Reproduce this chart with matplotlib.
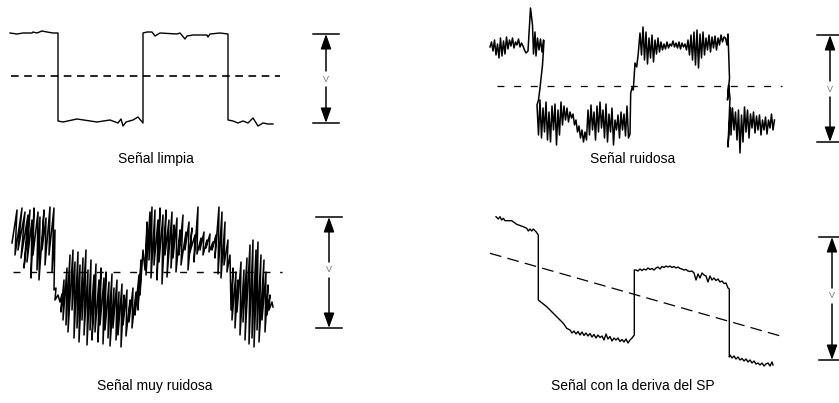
import numpy as np
import matplotlib.pyplot as plt

plt.rcParams['font.family'] = ['Liberation Sans', 'DejaVu Sans']
plt.rcParams['lines.scale_dashes'] = False

# --- datos (tiempo, nivel de la senal) ---
limpia_t = [10, 17, 23, 32, 33, 37, 42, 47, 53, 58,
            58, 63, 77, 97, 110, 118, 121, 123, 126, 133, 138, 143,
            143, 147, 152, 155, 160, 177, 180, 185, 187, 193, 207, 208, 210, 220, 228,
            228, 233, 238, 243, 248, 253, 258, 263, 268, 273]
limpia_v = [117, 116, 117, 117, 118, 117, 119, 118, 117, 117,
            29, 28, 31, 28, 30, 27, 31, 24, 28, 30, 33, 27,
            117, 118, 118, 114, 117, 116, 117, 111, 114, 115, 115, 113, 116, 117, 116,
            30, 29, 27, 29, 27, 32, 24, 27, 26, 26]
limpia_sp = 74

ruidosa = [(20, 103), (21.5, 108), (23, 99), (24.5, 110), (26, 95), (27.5, 106), (29, 92),
           (30.5, 112), (32, 94), (33.5, 109), (35, 96), (36.5, 113), (38, 101), (39.5, 110),
           (41, 104), (42.5, 112), (44, 102), (45.5, 108), (47, 105), (48.5, 111), (50, 103),
           (51.5, 107), (53, 104), (54.5, 100), (56, 97),
           (58, 99), (60.5, 142), (62.5, 125), (63.5, 96), (65, 118), (66, 94), (67.5, 112),
           (69, 100), (70.5, 111), (72, 98), (73.5, 110), (74, 109),
           (72.5, 85), (70, 62), (68.5, 50),
           (67, 45), (68.5, 15), (70, 50), (71.5, 12), (73, 42), (74.5, 18), (76, 48), (77.5, 10),
           (79, 38), (80.5, 8), (82, 44), (83.5, 20), (85, 46), (86.5, 5), (88, 40), (89.5, 15),
           (91, 48), (92.5, 25), (94, 44), (95.5, 30), (97, 42), (98.5, 28), (100, 38),
           (101.5, 32), (103, 36), (104.5, 25), (106, 30), (107.5, 18), (109, 24), (110.5, 12),
           (112, 20), (113.5, 8), (115, 18), (116.5, 10), (118, 40), (119.5, 15), (121, 45),
           (122.5, 20), (124, 38), (125.5, 10), (127, 44), (128.5, 18), (130, 48), (131.5, 22),
           (133, 40), (134.5, 12), (136, 46), (137.5, 8), (139, 36), (140.5, 18), (142, 42),
           (143.5, 5), (145, 30), (146.5, 20), (148, 35), (149.5, 12), (151, 38), (152.5, 20),
           (154, 36), (155.5, 14), (157, 44), (158.5, 12), (160, 16),
           (160.7, 57), (162.3, 63), (163.3, 60), (165, 87), (166.7, 83), (168.3, 97), (170, 117),
           (171.5, 95), (173, 123), (174.5, 90), (176, 118), (177.5, 86), (179, 112), (180.5, 92),
           (182, 115), (183.5, 88), (185, 110), (186.5, 96), (188, 112), (189.5, 98), (191, 108),
           (192.5, 100), (194, 106), (195.5, 101), (197, 108), (198.5, 102), (200, 106),
           (201.5, 104), (203, 109), (204.5, 103), (206, 107), (207.5, 102), (209, 108),
           (210.5, 101), (212, 107), (213.5, 103), (215, 106), (216.5, 100), (218, 110),
           (219.5, 95), (221, 115), (222.5, 90), (224, 118), (225.5, 85), (227, 120), (228.5, 82),
           (230, 116), (231.5, 92), (233, 118), (234.5, 95), (236, 112), (237.5, 100), (239, 115),
           (240.5, 98), (242, 113), (243.5, 102), (245, 114), (246.5, 100), (248, 112),
           (249.5, 105), (251, 115), (252.5, 108), (254, 113), (255.5, 112), (257, 105),
           (258, 116), (259.5, 72), (257.5, 50), (258.5, 65), (260, 52), (258, 3), (260.5, 42),
           (261, 15), (262.5, 42), (264, 20), (265.5, 38), (267, 10), (268.5, 40), (270, -3),
           (271.5, 35), (273, 8), (274.5, 43), (276, 18), (277.5, 40), (279, 12), (280.5, 36),
           (282, 22), (283.5, 38), (285, 17), (286.5, 34), (288, 20), (289.5, 35), (291, 15),
           (292.5, 30), (294, 20), (295.5, 33), (297, 16), (298.5, 30), (300, 22), (301.5, 36),
           (303, 20), (304.5, 30)]
ruidosa_sp = 64

muy_ruidosa = [(12, 107), (17, 140), (15, 95), (22, 142), (18, 100), (25, 138), (21, 92),
               (28, 135), (24, 82), (30, 140), (27, 88), (32, 130), (31, 72), (34, 142), (33, 95),
               (38, 138), (37, 80), (40, 133), (39, 70), (44, 140), (42, 100), (46, 132),
               (45, 85), (50, 143), (49, 95), (54, 142), (52, 78), (55, 120), (54, 60),
               (56, 62), (55, 50), (58, 55), (60, 48), (62, 56), (61, 38), (64, 70), (63, 30),
               (67, 82), (66, 25), (70, 95), (68, 18), (73, 100), (72, 40), (75, 88), (74, 12),
               (78, 98), (77, 22), (80, 85), (79, 8), (83, 92), (82, 30), (86, 100), (84, 15),
               (88, 80), (87, 5), (91, 90), (90, 20), (94, 75), (92, 10), (96, 86), (95, 18),
               (99, 70), (98, 8), (101, 82), (100, 25), (104, 72), (103, 6), (106, 78), (105, 20),
               (109, 68), (108, 12), (112, 76), (110, 4), (114, 62), (113, 22), (117, 70),
               (116, 10), (119, 58), (118, 15), (122, 66), (121, 3), (124, 55), (123, 25),
               (127, 60), (126, 14), (130, 50), (129, 28), (133, 62), (132, 22), (136, 58),
               (135, 35), (139, 75), (138, 40), (141, 90), (140, 55), (143, 100),
               (145, 80), (147, 128), (146, 75), (150, 138), (149, 90), (152, 143), (151, 72),
               (155, 140), (154, 85), (158, 130), (157, 70), (160, 142), (159, 88), (163, 135),
               (162, 66), (166, 140), (165, 95), (169, 130), (167, 73), (172, 138), (171, 82),
               (174, 125), (173, 92), (177, 132), (176, 78), (180, 120), (179, 95), (183, 135),
               (181, 85), (186, 118), (185, 100), (189, 128), (188, 80), (192, 122), (190, 98),
               (195, 115), (194, 88), (198, 143), (197, 96), (201, 112), (200, 100), (204, 118),
               (203, 95), (207, 110), (206, 102), (210, 116), (209, 98), (213, 108), (212, 100),
               (216, 115), (215, 92), (219, 143), (218, 76), (222, 138), (221, 72), (225, 128),
               (224, 85), (228, 110), (227, 78), (230, 95),
               (231, 40), (233, 82), (232, 30), (236, 78), (235, 22), (238, 70), (237, 38),
               (241, 88), (240, 15), (244, 80), (243, 28), (247, 92), (245, 10), (250, 105),
               (249, 6), (253, 110), (252, 12), (256, 100), (254, 3), (258, 108), (257, 20),
               (261, 95), (259, 8), (264, 90), (262, 30), (266, 78), (265, 18), (268, 65),
               (267, 35), (270, 55), (269, 40), (272, 48), (273, 43)]
muy_ruidosa_sp = 78

deriva = [(26, 143.3), (28.3, 141), (30, 143.3), (31.7, 140), (33.3, 141.7), (35, 139.3),
          (41.7, 139.3), (46.7, 135.7), (53.3, 133.3), (56.7, 131.7), (58.3, 129), (60, 131),
          (61.7, 129), (63.3, 131), (66, 128.3), (68.3, 125),
          (68.3, 60), (76.7, 53.3), (85, 45), (93.3, 36.7), (96.7, 31.7),
          (100, 30), (102, 27), (104, 29), (106, 26), (108, 28.5), (110, 25), (112, 28),
          (114, 24.5), (116, 27), (118, 24), (120, 26.5), (122, 23), (124, 25.5), (126, 22),
          (128, 25), (130, 22.5), (132, 24), (134, 20), (136, 26), (138, 21), (140, 23.5),
          (142, 19), (144, 22), (146, 20), (148, 22), (150, 18.5), (152, 20.5), (154, 18),
          (156, 21), (158, 17), (160, 20), (162, 22), (164.3, 25),
          (164.3, 90), (166, 90), (168, 89), (170, 91), (172, 89.5), (174, 91), (176, 90),
          (178, 92), (180, 90.5), (182, 91.5), (184, 90), (186, 92), (188, 93), (190, 91),
          (192, 93.5), (194, 92.5), (196, 94), (198, 93), (200, 94), (202, 92.5), (204, 93.5),
          (206, 92), (208, 93), (210, 91.5), (212, 91), (214, 90), (216, 90.5), (218, 89),
          (220, 88.5), (222, 89), (224, 87), (226, 80), (228, 86), (230, 82), (232, 87),
          (234, 85), (236, 84), (238, 78), (240, 84), (242, 80), (244, 82), (246, 79.5),
          (248, 81), (250, 78), (252, 79), (254, 76.5), (256, 77), (258, 72), (259.3, 71),
          (259.3, 3), (260, 5), (262, 2), (264, 4), (266, 1), (268, 3), (270, 0), (272, 1.5),
          (274, -1), (276, 1), (278, -2), (280, 0), (282, -3), (284, -1), (286, -4), (288, -3),
          (290, -5), (292, -3), (294, -6), (296, -4), (298, -3), (300, -6), (302, -2), (303, -5)]
deriva_sp_t = [20, 313]
deriva_sp_v = [106.7, 23.3]

titulos = ['Señal limpia', 'Señal ruidosa', 'Señal muy ruidosa', 'Señal con la deriva del SP']

W, H = 839, 403
fig = plt.figure(figsize=(W / 100, H / 100), dpi=100)


def panel(left, top):
    ax = fig.add_axes([left / W, 1 - (top + 170) / H, 369 / W, 170 / H])
    ax.set_xlim(0, 369)
    ax.set_ylim(-20, 150)
    ax.axis('off')
    return ax


def rango_v(ax, x, top, bot, mid):
    for y in (top, bot):
        ax.plot([x - 13, x + 13], [y, y], color='black', lw=1.1, clip_on=False)
    props = dict(arrowstyle='-|>,head_length=0.9,head_width=0.32', color='black',
                 lw=1.1, mutation_scale=10, shrinkA=0, shrinkB=0)
    ax.annotate('', xy=(x, top), xytext=(x, mid + 8), arrowprops=props, annotation_clip=False)
    ax.annotate('', xy=(x, bot), xytext=(x, mid - 8), arrowprops=props, annotation_clip=False)
    ax.text(x, mid, 'V', fontsize=6.5, color='#777777', ha='center', va='center')


# señal limpia
ax1 = panel(0, 0)
ax1.plot(limpia_t, limpia_v, color='black', lw=1.0)
ax1.plot([11, 280], [limpia_sp, limpia_sp], color='black', lw=1.2, dashes=(5.5, 4))
rango_v(ax1, 326, 116, 27, 71)

# señal ruidosa
ax2 = panel(470, 0)
t, v = zip(*ruidosa)
ax2.plot(t, v, color='black', lw=1.1, clip_on=False)
ax2.plot([27, 312], [ruidosa_sp, ruidosa_sp], color='black', lw=0.9, dashes=(5, 7))
rango_v(ax2, 360, 115, 8, 61)

# señal muy ruidosa
ax3 = panel(0, 200)
t, v = zip(*muy_ruidosa)
ax3.plot(t, v, color='black', lw=1.1, clip_on=False)
ax3.plot([13, 282], [muy_ruidosa_sp, muy_ruidosa_sp], color='black', lw=1.0, dashes=(5, 7))
rango_v(ax3, 329, 133, 22, 80)

# señal con deriva del SP
ax4 = panel(470, 210)
t, v = zip(*deriva)
ax4.plot(t, v, color='black', lw=1.0, clip_on=False)
ax4.plot(deriva_sp_t, deriva_sp_v, color='black', lw=0.9, dashes=(8.5, 4.5))
rango_v(ax4, 362, 123, 0, 64)

for (x, y), s in zip([(156, 159), (633, 159), (155, 386), (633, 386)], titulos):
    fig.text(x / W, 1 - y / H, s, fontsize=10, ha='center', va='center')

fig.savefig('out.png', dpi=100)
